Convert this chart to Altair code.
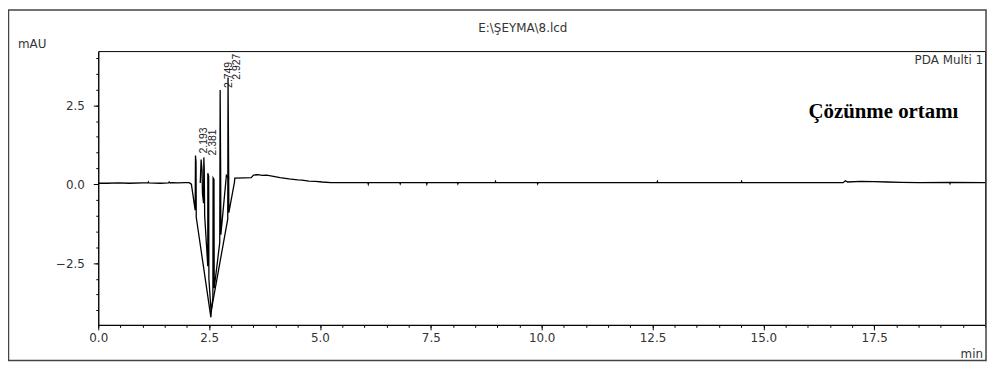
import altair as alt
import pandas as pd

# ---- trace data (time in min, signal in mAU) ----
# strand A: baseline, outer negative V, first and last spikes, tail
A_t = [0.00, 0.20, 0.45, 0.70, 1.00, 1.12, 1.13, 1.14, 1.40, 1.58, 1.60, 1.62, 1.66, 1.80, 1.95, 2.05, 2.10,
       2.185, 2.193, 2.205, 2.21, 2.54, 2.555, 2.92, 2.927, 2.94, 2.945, 3.07, 3.08, 3.30, 3.45, 3.50, 3.60,
       3.70, 3.80, 3.95, 4.10, 4.30, 4.50, 4.60, 4.75, 4.90, 5.05, 5.25, 5.50,
       6.08, 6.09, 6.10, 6.80, 6.81, 6.82, 7.40, 7.41, 7.42, 8.10, 8.11, 8.12, 8.95, 8.96, 8.97,
       9.90, 9.91, 9.92, 12.60, 12.61, 12.62, 14.50, 14.51, 14.52, 16.80, 16.85, 16.90, 17.20,
       17.50, 17.80, 18.10, 18.50, 19.20, 19.21, 19.22, 20.00]
A_v = [0.03, 0.03, 0.04, 0.03, 0.04, 0.04, 0.07, 0.04, 0.03, 0.04, 0.07, 0.04, 0.05, 0.04, 0.05, 0.05, 0.00,
       -0.82, 0.91, 0.70, -1.05, -4.22, -3.95, -1.11, 3.38, 0.60, -0.90, 0.05, 0.19, 0.20, 0.21, 0.29, 0.30,
       0.28, 0.29, 0.25, 0.21, 0.17, 0.14, 0.13, 0.10, 0.09, 0.07, 0.05, 0.05,
       0.05, 0.00, 0.05, 0.05, 0.01, 0.05, 0.05, 0.00, 0.05, 0.05, 0.01, 0.05, 0.05, 0.09, 0.05,
       0.05, 0.01, 0.05, 0.05, 0.09, 0.05, 0.05, 0.09, 0.05, 0.05, 0.11, 0.07, 0.09,
       0.08, 0.07, 0.06, 0.05, 0.06, 0.02, 0.06, 0.05]

# strand B: inner negative V with the middle spikes
B_t = [2.30, 2.32, 2.34, 2.35, 2.375, 2.381, 2.39, 2.40, 2.47, 2.471, 2.49, 2.495, 2.545, 2.56, 2.585,
       2.59, 2.61, 2.615, 2.74, 2.749, 2.76, 2.765, 2.89, 2.95]
B_v = [0.04, 0.78, 0.45, -0.30, -0.60, 0.85, 0.50, -1.00, -2.60, 0.35, 0.25, -3.00, -4.05, -3.90, -3.60,
       0.20, 0.15, -3.30, -1.85, 2.99, 0.50, -1.60, 0.28, 0.18]

# peak annotations
peak_times = [2.193, 2.381, 2.749, 2.927]
peak_heights = [0.91, 0.85, 2.99, 3.25]

# axis ticks
x_major = [0.0, 2.5, 5.0, 7.5, 10.0, 12.5, 15.0, 17.5]
x_minor = [i * 0.5 for i in range(41)]
y_major = [-2.5, 0.0, 2.5]
y_minor = [i * 0.5 - 4.0 for i in range(17)]

rows = []
for k, (t, v) in enumerate(zip(A_t, A_v)):
    rows.append({"strand": "A", "i": k, "t": t, "v": v})
for k, (t, v) in enumerate(zip(B_t, B_v)):
    rows.append({"strand": "B", "i": k, "t": t, "v": v})
df = pd.DataFrame(rows)

peaks = pd.DataFrame({"t": peak_times, "h": peak_heights,
                      "lab": [f"{p:.3f}" for p in peak_times]})

FONT = "DejaVu Sans"
TXT = "#333333"

common = dict(title=None, grid=False, labelFont=FONT, labelFontSize=12, labelColor=TXT,
              domainColor="#000", tickColor="#000", labelOverlap=False, labelFlush=False)

x_axis = alt.Axis(values=x_major, orient="bottom", format=".1f", tickSize=5, labelPadding=3, **common)
y_axis = alt.Axis(values=y_major, orient="left", format=".1f", tickSize=5, labelPadding=9, **common)
x_axis_minor = alt.Axis(values=x_minor, orient="bottom", labels=False, tickSize=2.5, domain=False,
                        title=None, grid=False, tickColor="#000")
y_axis_minor = alt.Axis(values=y_minor, orient="left", labels=False, tickSize=2.5, domain=False,
                        title=None, grid=False, tickColor="#000")

xs = alt.Scale(domain=[0, 20], nice=False, zero=False)
ys = alt.Scale(domain=[-4.46, 4.22], nice=False, zero=False)

line = alt.Chart(df).mark_line(color="#000", strokeWidth=1.3).encode(
    x=alt.X("t:Q", scale=xs, axis=x_axis),
    y=alt.Y("v:Q", scale=ys, axis=y_axis),
    detail="strand:N",
    order=alt.Order("i:Q"),
)

minor = alt.Chart(df).mark_point(opacity=0).encode(
    x=alt.X("t:Q", scale=xs, axis=x_axis_minor),
    y=alt.Y("v:Q", scale=ys, axis=y_axis_minor),
)

labels = alt.Chart(peaks).mark_text(angle=270, align="left", baseline="middle", dx=2, dy=9,
                                    font="Liberation Sans", fontSize=10.5, color="#222").encode(
    x=alt.X("t:Q", scale=xs, axis=None),
    y=alt.Y("h:Q", scale=ys, axis=None),
    text="lab:N")

one = alt.Data(values=[{}])


def note(txt, x, y, align, **kw):
    return alt.Chart(one).mark_text(align=align, baseline="middle", **kw).encode(
        x=alt.value(x), y=alt.value(y), text=alt.value(txt))


title = note("E:\\ŞEYMA\\8.lcd", 428, -23, "center", font=FONT, fontSize=12, color=TXT)
mau = note("mAU", -81, -7, "left", font=FONT, fontSize=12, color=TXT)
pda = note("PDA Multi 1", 892, 9, "right", font=FONT, fontSize=12, color=TXT)
sample = note("Çözünme ortamı", 716, 61, "left", font="Liberation Serif", fontSize=21,
              fontWeight="bold", color="#000")
mins = note("min", 892, 305, "right", font=FONT, fontSize=12, color=TXT)

border = alt.Chart(one).mark_rect(fillOpacity=0, stroke="#444", strokeWidth=1.5).encode(
    x=alt.value(-90.5), x2=alt.value(895), y=alt.value(-41.5), y2=alt.value(312))

chart = alt.layer(border, minor, line, labels, title, mau, pda, sample, mins).resolve_axis(
    x="independent", y="independent"
).properties(
    width=894, height=276,
    padding={"left": 91, "top": 42, "right": 4, "bottom": 37},
    autosize=alt.AutoSizeParams(type="none"),
    background="white",
).configure_view(stroke="#000", strokeWidth=1)

chart.save("out.html", embed_options={"renderer": "svg", "actions": False})
